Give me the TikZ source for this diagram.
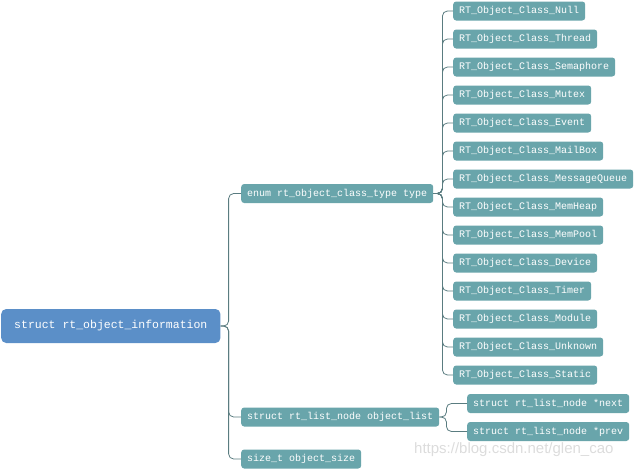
\documentclass[tikz,border=0pt]{standalone}
\usepackage{fontspec}
\setmainfont{Liberation Sans}
\setmonofont{Liberation Mono}
\definecolor{mainblue}{HTML}{5B8FC8}
\definecolor{teal}{HTML}{69A5AB}
\definecolor{conncol}{HTML}{5A7C80}
\definecolor{wm}{HTML}{DCDCDC}
\begin{document}
\begin{tikzpicture}[x=1pt,y=-1pt,
  mainbox/.style={fill=mainblue,text=white,rounded corners=5pt,anchor=west,
    minimum height=34pt,inner xsep=13pt,inner ysep=0pt,font=\ttfamily\fontsize{11.5}{12}\selectfont},
  midbox/.style={fill=teal,text=white,rounded corners=3pt,anchor=west,
    minimum height=19pt,inner xsep=6pt,inner ysep=0pt,font=\ttfamily\fontsize{10}{11}\selectfont},
  leafbox/.style={midbox},
  conn/.style={draw=conncol,line width=0.8pt,rounded corners=5pt}]
\useasboundingbox (0,0) rectangle (634,469);

\node[mainbox] (root) at (1,326) {struct rt\_object\_information};

\node[midbox] (enum) at (241,193.5) {enum rt\_object\_class\_type type};
\node[midbox] (list) at (241,417) {struct rt\_list\_node object\_list};
\node[midbox] (size) at (241,459) {size\_t object\_size};

\foreach \n [count=\i from 0] in {Null,Thread,Semaphore,Mutex,Event,MailBox,MessageQueue,MemHeap,MemPool,Device,Timer,Module,Unknown,Static}{
  \node[leafbox] (leaf\i) at (453,{11+28*\i}) {RT\_Object\_Class\_\n};
  \draw[conn] (enum.east) -- ([xshift=9pt]enum.east) |- (leaf\i.west);
}

\node[leafbox] (next) at (467,403.5) {struct rt\_list\_node *next};
\node[leafbox] (prev) at (467,431.5) {struct rt\_list\_node *prev};

\foreach \c in {enum,list,size}{
  \draw[conn] (root.east) -- ([xshift=8pt]root.east) |- (\c.west);
}
\foreach \c in {next,prev}{
  \draw[conn] (list.east) -- ([xshift=7pt]list.east) |- (\c.west);
}

\node[text=wm,anchor=west,inner sep=0pt,font=\fontsize{15}{16}\selectfont] (wmark) at (414,450) {https://blog.csdn.net/glen\_cao};
\end{tikzpicture}
\end{document}
